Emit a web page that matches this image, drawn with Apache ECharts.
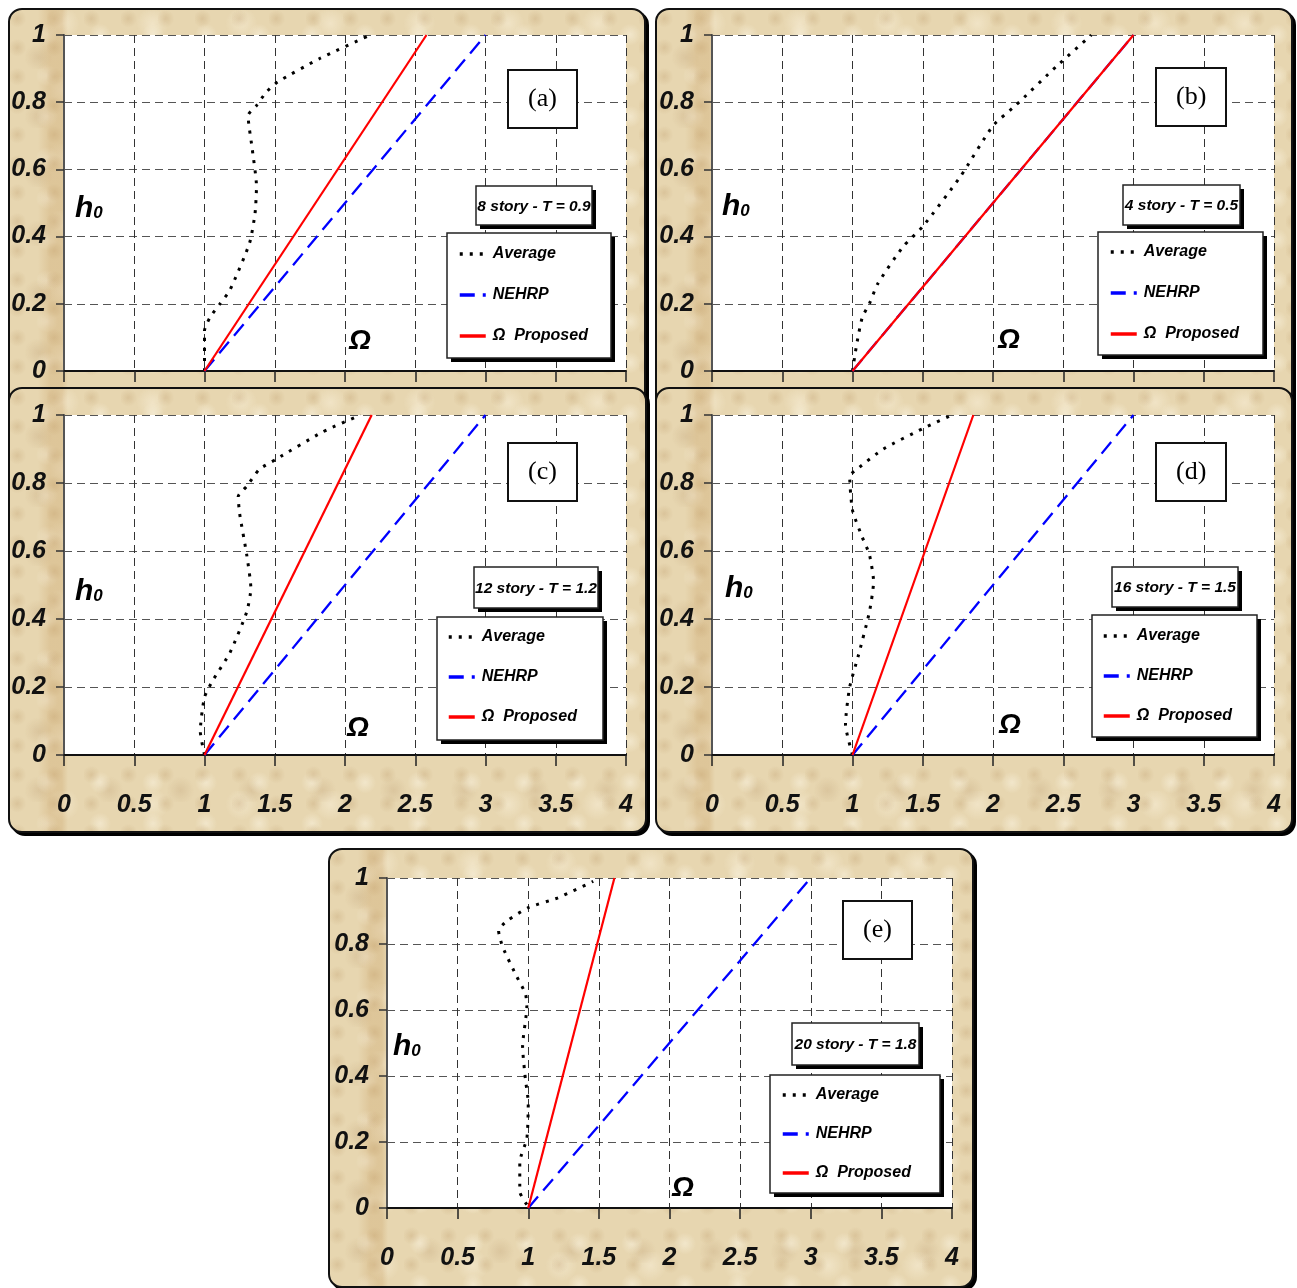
<!DOCTYPE html>
<html><head><meta charset="utf-8">
<script src="https://cdn.jsdelivr.net/npm/echarts@6/dist/echarts.min.js"></script>
<style>
html,body{margin:0;padding:0;background:#fff;width:1297px;height:1288px;overflow:hidden;}
.panel{position:absolute;box-sizing:border-box;border:2px solid #111;border-radius:14px;box-shadow:3px 3px 0 #000;
background:
 linear-gradient(to right, rgba(0,0,0,0) 28px, rgba(200,160,100,0.30) 40px, rgba(200,160,100,0.30) 52px, rgba(0,0,0,0) 58px),
 radial-gradient(circle at 20% 30%, rgba(185,150,100,0.28) 0, rgba(185,150,100,0) 9px) 0 0/37px 29px,
 radial-gradient(circle at 70% 60%, rgba(255,250,235,0.45) 0, rgba(255,250,235,0) 11px) 0 0/53px 41px,
 radial-gradient(circle at 40% 80%, rgba(175,140,95,0.22) 0, rgba(175,140,95,0) 14px) 0 0/71px 59px,
 radial-gradient(circle at 60% 20%, rgba(255,248,230,0.40) 0, rgba(255,248,230,0) 16px) 0 0/89px 67px,
 #e7d6b0;}
.chart{position:absolute;left:0;top:0;right:0;bottom:0;}
</style></head><body>
<div id="pa" class="panel"><div class="chart" id="ca"></div></div>
<div id="pb" class="panel"><div class="chart" id="cb"></div></div>
<div id="pc" class="panel"><div class="chart" id="cc"></div></div>
<div id="pd" class="panel"><div class="chart" id="cd"></div></div>
<div id="pe" class="panel"><div class="chart" id="ce"></div></div>
<script>
// ---------------- data ----------------
const xMin = 0, xMax = 4, xStep = 0.5;
const yMin = 0, yMax = 1, yStep = 0.2;
const seriesNames = ['Average', 'NEHRP', 'Ω  Proposed'];
const panelTags = ['(a)', '(b)', '(c)', '(d)', '(e)'];
const storyLabels = ['8 story - T = 0.9', '4 story - T = 0.5', '12 story - T = 1.2', '16 story - T = 1.5', '20 story - T = 1.8'];

const avgA = [[1.00,0.00],[1.00,0.12],[1.04,0.16],[1.11,0.20],[1.18,0.24],[1.32,0.38],[1.36,0.47],[1.37,0.55],[1.34,0.66],[1.31,0.76],[1.37,0.79],[1.44,0.83],[1.52,0.86],[1.82,0.93],[2.18,1.00]];
const avgB = [[1.00,0.00],[1.03,0.08],[1.07,0.16],[1.12,0.20],[1.18,0.26],[1.36,0.37],[1.50,0.43],[1.77,0.58],[2.00,0.73],[2.16,0.79],[2.46,0.91],[2.70,1.00]];
const avgC = [[1.00,0.00],[0.97,0.07],[1.00,0.17],[1.06,0.22],[1.18,0.30],[1.30,0.42],[1.33,0.49],[1.30,0.59],[1.25,0.71],[1.24,0.76],[1.30,0.79],[1.39,0.84],[1.51,0.87],[1.84,0.95],[2.11,1.00]];
const avgD = [[1.00,0.00],[0.95,0.09],[0.98,0.20],[1.04,0.29],[1.12,0.42],[1.15,0.51],[1.12,0.59],[1.07,0.64],[1.00,0.72],[0.98,0.82],[1.03,0.84],[1.22,0.90],[1.50,0.96],[1.71,1.00]];
const avgE = [[0.99,0.01],[0.94,0.05],[0.94,0.14],[0.99,0.21],[1.00,0.32],[0.98,0.39],[0.96,0.49],[0.99,0.61],[0.98,0.65],[0.92,0.70],[0.82,0.79],[0.79,0.84],[0.85,0.87],[1.00,0.91],[1.21,0.94],[1.46,0.99]];

const nehrpA = [[1,0],[3,1]];
const nehrpB = [[1,0],[3,1]];
const nehrpC = [[1,0],[3,1]];
const nehrpD = [[1,0],[3,1]];
const nehrpE = [[1,0],[3,1]];

const propA = [[1,0],[2.58,1]];
const propB = [[1,0],[3.00,1]];
const propC = [[1,0],[2.19,1]];
const propD = [[1,0],[1.86,1]];
const propE = [[1,0],[1.61,1]];

// ---------------- layout (absolute page px) ----------------
const layouts = [
 {el:'pa', chart:'ca', div:[8,8,638,440],   plot:[64,35,562,336],  tag:[508,70],  story:[476,186,116,39],  legend:[447,233,164,125], lg:[458,254,25],  h0:[75,207],  om:[360,343], xLabels:false},
 {el:'pb', chart:'cb', div:[655,8,638,440], plot:[712,35,562,336], tag:[1156,68], story:[1123,185,117,40], legend:[1098,232,165,123], lg:[1109,252,25], h0:[722,205], om:[1009,342], xLabels:false},
 {el:'pc', chart:'cc', div:[8,387,639,446], plot:[64,415,562,340], tag:[508,443], story:[474,567,124,41],  legend:[437,617,166,123], lg:[447,637,24],  h0:[75,590],  om:[358,730], xLabels:true},
 {el:'pd', chart:'cd', div:[655,387,638,446],plot:[712,415,562,340],tag:[1156,443],story:[1112,567,126,40], legend:[1092,615,165,122], lg:[1102,636,24], h0:[725,587], om:[1010,727], xLabels:true},
 {el:'pe', chart:'ce', div:[328,848,646,440],plot:[387,878,565,330],tag:[843,901], story:[792,1023,127,42], legend:[770,1075,170,118], lg:[781,1095,23], h0:[393,1045], om:[683,1190], xLabels:true}
];
const panelData = [
 [avgA, nehrpA, propA],
 [avgB, nehrpB, propB],
 [avgC, nehrpC, propC],
 [avgD, nehrpD, propD],
 [avgE, nehrpE, propE]
];

const SANS = '"Liberation Sans", Arial, sans-serif';
const SERIF = '"Liberation Serif", "Times New Roman", serif';
const B = 2; // border width

function shadowBox(x, y, w, h) {
  return [
    {type: 'rect', z: 6, silent: true, shape: {x: x + 4, y: y + 4, width: w, height: h}, style: {fill: '#000'}},
    {type: 'rect', z: 6, silent: true, shape: {x: x, y: y, width: w, height: h}, style: {fill: '#fff', stroke: '#222', lineWidth: 1.5}}
  ];
}

layouts.forEach((L, i) => {
  const d = document.getElementById(L.el);
  d.style.left = L.div[0] + 'px'; d.style.top = L.div[1] + 'px';
  d.style.width = L.div[2] + 'px'; d.style.height = L.div[3] + 'px';
  const ox = L.div[0] + B, oy = L.div[1] + B;
  const chart = echarts.init(document.getElementById(L.chart), null, {renderer: 'canvas'});
  const [avg, neh, prop] = panelData[i];
  const sx = L.story[0] - ox, sy = L.story[1] - oy, sw = L.story[2], sh = L.story[3];
  const gx = L.legend[0] - ox, gy = L.legend[1] - oy;
  const option = {
    animation: false,
    grid: {left: L.plot[0] - ox, top: L.plot[1] - oy, width: L.plot[2], height: L.plot[3],
           outerBoundsMode: 'none', containLabel: false,
           show: true, backgroundColor: '#ffffff', borderWidth: 0},
    xAxis: {type: 'value', min: xMin, max: xMax, interval: xStep,
      axisLine: {show: true, onZero: false, lineStyle: {color: '#111', width: 2}},
      axisTick: {show: true, inside: false, length: 11, lineStyle: {color: '#222', width: 1.5}},
      axisLabel: {show: L.xLabels, margin: 38, fontFamily: SANS, fontSize: 25, fontWeight: 'bold', fontStyle: 'italic', color: '#111'},
      splitLine: {show: true, lineStyle: {color: '#333', width: 1, type: [8, 5]}}},
    yAxis: {type: 'value', min: yMin, max: yMax, interval: yStep,
      axisLine: {show: true, lineStyle: {color: '#555', width: 2}},
      axisTick: {show: true, inside: false, length: 8, lineStyle: {color: '#333', width: 1.5}},
      axisLabel: {margin: 18, fontFamily: SANS, fontSize: 25, fontWeight: 'bold', fontStyle: 'italic', color: '#111'},
      splitLine: {show: true, lineStyle: {color: '#555', width: 1, type: [8, 5]}}},
    legend: {
      orient: 'vertical', left: L.lg[0] - ox, top: L.lg[1] - oy - 8, z: 8,
      data: seriesNames, itemWidth: 26, itemHeight: 14, itemGap: L.lg[2],
      padding: 0, backgroundColor: 'transparent', borderWidth: 0,
      itemStyle: {opacity: 0},
      lineStyle: {width: 3.5},
      textStyle: {fontFamily: SANS, fontSize: 16, fontWeight: 'bold', fontStyle: 'italic', color: '#000', padding: [0,0,0,2]}
    },
    graphic: [
      ...shadowBox(gx, gy, L.legend[2], L.legend[3]),
      ...shadowBox(sx, sy, sw, sh),
      {type: 'text', z: 7, silent: true,
       style: {text: storyLabels[i], x: sx + sw / 2, y: sy + sh / 2 + 1, textAlign: 'center', textVerticalAlign: 'middle',
               fontFamily: SANS, fontSize: 15.5, fontWeight: 'bold', fontStyle: 'italic', fill: '#000'}}
    ],
    title: [
      {text: panelTags[i], left: L.tag[0] - ox, top: L.tag[1] - oy, padding: [16, 20],
       backgroundColor: '#fff', borderColor: '#111', borderWidth: 2,
       textStyle: {fontFamily: SERIF, fontSize: 26, fontWeight: 'normal', color: '#000'}},
      {text: '{h|h}{s|0}', left: L.h0[0] - ox, top: L.h0[1] - oy - 17, padding: 0,
       textStyle: {rich: {
         h: {fontFamily: SANS, fontSize: 30, fontWeight: 'bold', fontStyle: 'italic', color: '#000', lineHeight: 34, verticalAlign: 'bottom'},
         s: {fontFamily: SANS, fontSize: 17, fontWeight: 'bold', fontStyle: 'italic', color: '#000', lineHeight: 34, verticalAlign: 'bottom', padding: [0,0,2,0]}}}},
      {text: 'Ω', left: L.om[0] - ox - 11, top: L.om[1] - oy - 16, padding: 0,
       textStyle: {fontFamily: SANS, fontSize: 28, fontWeight: 'bold', fontStyle: 'italic', color: '#000'}}
    ],
    series: [
      {name: seriesNames[0], type: 'line', data: avg, symbol: 'none', smooth: 0.2, z: 3,
       lineStyle: {color: '#000', width: 3, type: [3, 7]}, itemStyle: {color: 'rgba(0,0,0,0)'}},
      {name: seriesNames[1], type: 'line', data: neh, symbol: 'none', z: 4,
       lineStyle: {color: '#0000ff', width: 2.3, type: [15, 8]}, itemStyle: {color: 'rgba(0,0,0,0)'}},
      {name: seriesNames[2], type: 'line', data: prop, symbol: 'none', z: 5,
       lineStyle: {color: '#ff0000', width: 2.2, type: 'solid'}, itemStyle: {color: 'rgba(0,0,0,0)'}}
    ]
  };
  chart.setOption(option);
});
</script>
</body></html>
